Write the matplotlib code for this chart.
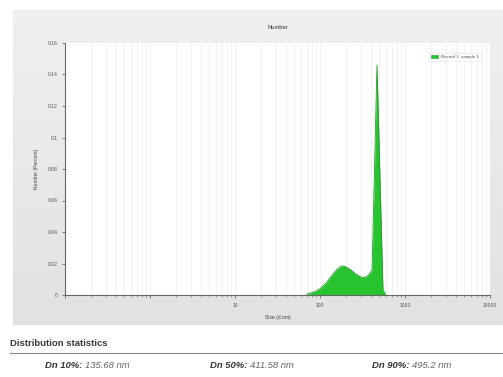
import numpy as np
import matplotlib
matplotlib.use('Agg')
import matplotlib.pyplot as plt
from matplotlib.patches import Rectangle
from matplotlib.lines import Line2D

plt.rcParams['font.family'] = ['Liberation Sans', 'DejaVu Sans']

# size distribution by number
size_nm = [0.1, 60, 70, 80, 90, 100, 120, 140, 160, 180, 200, 230, 260, 300,
           330, 360, 390, 410, 468, 550, 600, 10000]
number_pct = [0, 0, 0.0005, 0.0015, 0.0025, 0.004, 0.008, 0.013, 0.0165,
              0.0185, 0.018, 0.016, 0.0135, 0.0115, 0.011, 0.012, 0.014,
              0.016, 0.146, 0.004, 0, 0]

y_ticks = [0, 0.02, 0.04, 0.06, 0.08, 0.1, 0.12, 0.14, 0.16]
y_labels = ['0', '0.02', '0.04', '0.06', '0.08', '0.1', '0.12', '0.14', '0.16']
x_ticks = [0.1, 1, 10, 100, 1000, 10000]
x_labels = ['', '', '10', '100', '1000', '10000']

stat_names = ['Dn 10%:', 'Dn 50%:', 'Dn 90%:']
stat_values = ['135.68 nm', '411.58 nm', '495.2 nm']

fig = plt.figure(figsize=(5.03, 3.77), dpi=100)
fig.patch.set_facecolor('white')

W, H = 503.0, 377.0

# grey chart panel with a soft vertical gradient
bg = fig.add_axes([13 / W, 1 - 325 / H, (503 - 13) / W, (325 - 10) / H])
grad = np.linspace(0.94, 0.885, 64).reshape(-1, 1)
bg.imshow(np.dstack([grad, grad, grad]), aspect='auto', extent=[0, 1, 0, 1])
bg.set_axis_off()

ax = fig.add_axes([65 / W, 1 - 295 / H, (490 - 65) / W, (295 - 43) / H])
ax.set_facecolor('white')
ax.set_xscale('log')
ax.set_xlim(0.1, 10000)
ax.set_ylim(0, 0.16)

ax.fill_between(size_nm, number_pct, color='#27c42f', lw=0)
# outline only over the populated part of the distribution
ax.plot(size_nm[2:-2], number_pct[2:-2], color='#1f9e25', lw=0.6)

ax.set_xticks(x_ticks)
ax.set_xticklabels(x_labels)
ax.set_yticks(y_ticks)
ax.set_yticklabels(y_labels)
ax.tick_params(axis='both', labelsize=3.6, colors='#555555', length=2, width=0.5)
ax.tick_params(axis='x', which='minor', length=1.5, width=0.5, colors='#777777')
ax.grid(True, which='both', axis='x', color='#eeeeee', lw=0.5)
ax.set_axisbelow(True)

for side in ['top', 'right']:
    ax.spines[side].set_visible(False)
for side in ['left', 'bottom']:
    ax.spines[side].set_color('#666666')
    ax.spines[side].set_linewidth(0.8)
    ax.spines[side].set_zorder(3)

ax.set_xlabel('Size (d.nm)', fontsize=3.6, color='#444444', labelpad=5)
ax.set_ylabel('Number (Percent)', fontsize=3.6, color='#444444', labelpad=6)
ax.set_title('Number', fontsize=4.2, color='#333333', pad=10)

handle = Rectangle((0, 0), 1, 1, facecolor='#27c42f', edgecolor='#1f9e25', lw=0.4)
leg = ax.legend([handle], ['Record 1: sample 1'], loc='upper right',
                fontsize=3.2, frameon=True, handlelength=1.5, handleheight=0.8,
                borderpad=0.5, bbox_to_anchor=(0.985, 0.97))
leg.get_frame().set_edgecolor('#dddddd')
leg.get_frame().set_linewidth(0.4)
for t in leg.get_texts():
    t.set_color('#555555')

# statistics block below the chart
fig.text(10 / W, 1 - 343 / H, 'Distribution statistics', fontsize=6.8,
         fontweight='bold', color='#3a3a3a', va='center')
fig.add_artist(Line2D([10 / W, 1], [1 - 353 / H, 1 - 353 / H],
                      color='#888888', lw=0.8))
x_pos = [45, 210, 372]
for x0, name, val in zip(x_pos, stat_names, stat_values):
    t = fig.text(x0 / W, 1 - 366 / H, name + ' ', fontsize=6.8, fontweight='bold',
                 style='italic', color='#333333', va='center')
    fig.canvas.draw()
    bb = t.get_window_extent()
    fig.text(bb.x1 / fig.bbox.width, 1 - 366 / H, val, fontsize=6.8,
             style='italic', color='#666666', va='center')

fig.savefig('out.png', dpi=100)
